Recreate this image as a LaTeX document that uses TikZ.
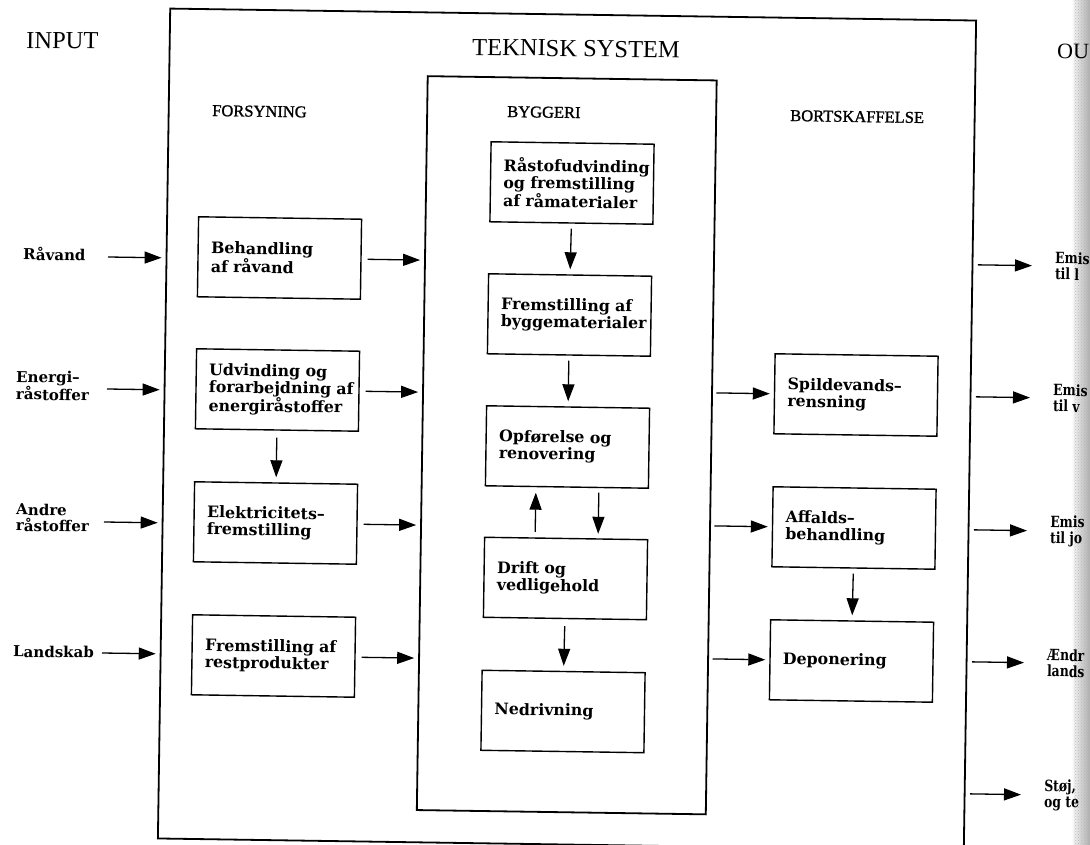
\documentclass[tikz,border=0pt]{standalone}
\usepackage{fontspec}
\setmainfont{Liberation Serif}
\newfontfamily\boxfont{DejaVu Serif}
\newfontfamily\outfont{DejaVu Serif}[FakeStretch=0.8]
\newfontfamily\headfont{Liberation Serif}[FakeBold=1.3]
\usetikzlibrary{arrows.meta,calc,patterns}

\begin{document}
\begin{tikzpicture}[x=1pt,y=-1pt,
  every node/.append style={rotate=-0.85},
  frame/.style={draw, line width=1.8pt, inner sep=0pt},
  box/.style={draw, line width=1.4pt, minimum width=163pt, minimum height=80pt,
    text width=137pt, inner xsep=13pt, inner ysep=0pt, align=left,
    font=\boxfont\bfseries\fontsize{15.8}{17}\selectfont},
  lbl/.style={inner sep=0pt, align=left,
    font=\boxfont\bfseries\fontsize{15}{16}\selectfont},
  olbl/.style={inner sep=0pt, align=left,
    font=\outfont\bfseries\fontsize{15.5}{16}\selectfont},
  head/.style={inner sep=0pt, anchor=base west, font=\headfont\fontsize{16.5}{18}\selectfont},
  title/.style={inner sep=0pt, anchor=base west, font=\fontsize{24.5}{28}\selectfont},
  arr/.style={-{Triangle[length=17pt,width=12pt]}, line width=1.3pt}
]
\useasboundingbox (0,0) rectangle (1090,845);
\fill[white] (0,0) rectangle (1090,845);

% binding gutter at the right edge
\shade[left color=white, right color=gray!65] (1071,0) rectangle (1090,845);
\fill[pattern=crosshatch dots, pattern color=gray!55] (1074,0) rectangle (1090,845);

% frames: technical system and building sector
\node[frame, minimum width=806pt, minimum height=830pt] (sys) at (567,429.5) {};
\node[frame, minimum width=289pt, minimum height=734pt] (byg) at (566.75,445.25) {};

% titles and column headings
\node[title] (tin) at (26,48) {INPUT};
\node[title] (tsys) at (472,55) {TEKNISK SYSTEM};
\node[title, font=\fontsize{22}{26}\selectfont] (tout) at (1057,58) {OU};
\node[head] (hfor) at (212,116) {FORSYNING};
\node[head] (hbyg) at (507,117) {BYGGERI};
\node[head] (hbor) at (790,121) {BORTSKAFFELSE};

% supply column
\node[box] (beh)  at (279.5,258) {Behandling\\af~råvand};
\node[box] (udv)  at (277.5,390) {Udvinding~og\\forarbejdning~af\\energiråstoffer};
\node[box] (elek) at (275.5,523) {Elektricitets–\\fremstilling};
\node[box] (rest) at (273.5,656) {Fremstilling~af\\restprodukter};

% building column
\node[box] (rs)  at (572,183) {Råstofudvinding\\og~fremstilling\\af~råmaterialer};
\node[box] (fb)  at (569.5,315) {Fremstilling~af\\byggematerialer};
\node[box] (op)  at (567.5,447) {Opførelse~og\\renovering};
\node[box] (dr)  at (565.5,578.5) {Drift~og\\vedligehold};
\node[box] (ned) at (563,711.5) {Nedrivning};

% disposal column
\node[box] (sp)  at (856,395) {Spildevands–\\rensning};
\node[box] (af)  at (854,528) {Affalds–\\behandling};
\node[box] (dep) at (851.5,661) {Deponering};

% inputs
\node[lbl, anchor=west] (rv) at (23,253.3) {Råvand};
\node[lbl, anchor=west] (en) at (16,385.3) {Energi–\\råstoffer};
\node[lbl, anchor=west] (an) at (16,517.3) {Andre\\råstoffer};
\node[lbl, anchor=west] (ls) at (13,651.3) {Landskab};
\coordinate (i1) at (108,257);
\coordinate (i2) at (107,389);
\coordinate (i3) at (104,522);
\coordinate (i4) at (102,653);
\foreach \i in {i1,i2,i3,i4}
  \draw[arr, shorten >=4pt] (\i) -- ($(sys.north west)!(\i)!(sys.south west)$);

% outputs
\node[olbl, anchor=west] (o1) at (1055,266) {Emis\\til l};
\node[olbl, anchor=west] (o2) at (1053,398) {Emis\\til v};
\node[olbl, anchor=west] (o3) at (1050,531) {Emis\\til jo};
\node[olbl, anchor=west] (o4) at (1047,663) {Ændr\\lands};
\node[olbl, anchor=west] (o5) at (1044,795) {Støj,\\og te};
\foreach \o in {o1,o2,o3,o4,o5}
  \draw[arr, shorten <=4.5pt, shorten >=23pt]
    ($(sys.north east)!(\o.west)!(sys.south east)$) -- (\o.west);

% supply to building
\foreach \b in {beh,udv,elek,rest}
  \draw[arr, shorten <=6pt, shorten >=4pt]
    (\b.east) -- ($(byg.north west)!(\b.east)!(byg.south west)$);

% building to disposal
\foreach \b in {sp,af,dep}
  \draw[arr, shorten <=3.5pt, shorten >=4pt]
    ($(byg.north east)!(\b.west)!(byg.south east)$) -- (\b.west);

% flows within the columns
\draw[arr, shorten <=7pt, shorten >=5pt] (udv.south) -- (elek.north);
\draw[arr, shorten <=5pt, shorten >=5pt] (rs.south) -- (fb.north);
\draw[arr, shorten <=5pt, shorten >=5pt] (fb.south) -- (op.north);
\draw[arr, shorten <=6pt, shorten >=5pt] ([xshift=-31pt]dr.north) -- ([xshift=-31pt]op.south);
\draw[arr, shorten <=5pt, shorten >=4pt] ([xshift=32pt]op.south) -- ([xshift=32pt]dr.north);
\draw[arr, shorten <=7pt, shorten >=5pt] (dr.south) -- (ned.north);
\draw[arr, shorten <=5pt, shorten >=5pt] (af.south) -- (dep.north);
\end{tikzpicture}
\end{document}
